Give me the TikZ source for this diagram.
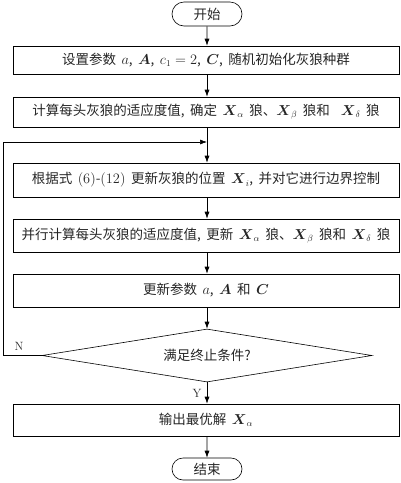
\documentclass[tikz,border=0pt]{standalone}
\usepackage{amsmath}
\usepackage{fontspec}
\newfontfamily\cjk{Noto Sans CJK SC}
\newcommand\gap{\hspace{5.5pt}}
\usetikzlibrary{shapes.geometric,shapes.misc,arrows.meta}
\begin{document}
\begin{tikzpicture}[x=1pt,y=-1pt,
  every node/.style={font=\cjk\fontsize{13.5}{16}\selectfont, text=black!85},
  procbox/.style={draw, line width=0.6pt, minimum width=386pt, inner sep=0pt},
  term/.style={draw, line width=0.6pt, rounded rectangle, minimum width=70pt, inner sep=0pt},
  decide/.style={draw, line width=0.6pt, diamond, aspect=6, minimum width=330pt, minimum height=53pt, inner sep=0pt},
  arr/.style={line width=0.6pt, -{Latex[length=7pt,width=5pt]}},
  ln/.style={line width=0.6pt},
  lbl/.style={font=\rmfamily\fontsize{12}{14}\selectfont}]
\useasboundingbox (0,0) rectangle (400,483);
\node[term, minimum height=24pt] (start) at (207,14) {开始};
\node[procbox, minimum height=28pt] (b1) at (206,60) {设置参数\gap{}$a$,\gap{}$\boldsymbol{A}$,\gap{}$c_1=2$,\gap{}$\boldsymbol{C}$,\gap{}随机初始化灰狼种群};
\node[procbox, minimum height=30pt] (b2) at (206,112) {计算每头灰狼的适应度值,\gap{}确定\gap{}$\boldsymbol{X}_\alpha$\gap{}狼、$\boldsymbol{X}_\beta$\gap{}狼和\gap{}\gap{}$\boldsymbol{X}_\delta$\gap{}狼};
\node[procbox, minimum height=34pt] (b3) at (206,180) {根据式\gap{}$(6)$-$(12)$\gap{}更新灰狼的位置\gap{}$\boldsymbol{X}_i$,\gap{}并对它进行边界控制};
\node[procbox, minimum height=33pt] (b4) at (206,235.5) {并行计算每头灰狼的适应度值,\gap{}更新\gap{}$\boldsymbol{X}_\alpha$\gap{}狼、$\boldsymbol{X}_\beta$\gap{}狼和\gap{}$\boldsymbol{X}_\delta$\gap{}狼};
\node[procbox, minimum height=33pt] (b5) at (206,290.5) {更新参数\gap{}$a$,\gap{}$\boldsymbol{A}$\gap{}和\gap{}$\boldsymbol{C}$};
\node[decide] (d) at (207,355.5) {满足终止条件?};
\node[procbox, minimum height=32pt] (b6) at (206,420) {输出最优解\gap{}$\boldsymbol{X}_\alpha$};
\node[term, minimum height=22pt] (end) at (207,469) {结束};
\coordinate (j) at (207,142);
\coordinate (l1) at (3,355.5);
\coordinate (l2) at (3,142);
\draw[arr] (start) -- (b1.north -| start);
\draw[arr] (b1.south -| start) -- (b2.north -| start);
\draw[ln] (b2.south -| start) -- (j);
\draw[arr] (j) -- (b3.north -| start);
\draw[arr] (b3.south -| start) -- (b4.north -| start);
\draw[arr] (b4.south -| start) -- (b5.north -| start);
\draw[arr] (b5.south -| start) -- (d.north);
\draw[arr] (d.south) -- node[left, lbl, pos=0.5, xshift=-2pt] (ylab) {Y} (b6.north -| start);
\draw[arr] (b6.south -| start) -- (end);
\draw[arr] (d.west) -- (l1) -- (l2) -- (j);
\node[lbl] (nlab) at (19,346) {N};
\end{tikzpicture}
\end{document}
